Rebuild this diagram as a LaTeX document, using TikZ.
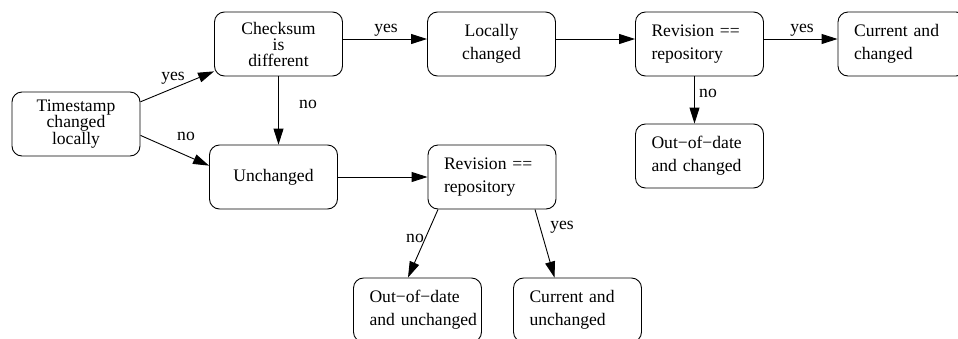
\documentclass[tikz,border=0pt]{standalone}
\usepackage{fontspec}
\setmainfont{Liberation Serif}
\usetikzlibrary{positioning,arrows.meta}

\begin{document}
\begin{tikzpicture}[x=1pt,y=-1pt,
  box/.style={draw,line width=0.9pt,rounded corners=10pt,minimum width=128pt,minimum height=64pt,inner sep=0pt,align=center},
  boxl/.style={box,text width=96pt,inner xsep=16pt,align=left},
  tight/.style={font=\fontsize{17.6}{16}\selectfont},
  loose/.style={font=\fontsize{17.6}{23}\selectfont},
  lbl/.style={inner sep=0pt,font=\fontsize{17.6}{20}\selectfont},
  arr/.style={line width=0.9pt,-{Triangle[length=16pt,width=10pt]}}]
  \useasboundingbox (0,0) rectangle (958,338);
  \clip (0,0) rectangle (958,338);
  \node[box,tight] (ts) at (76,124) {Timestamp\\changed\\locally};
  \node[box,tight] (chk) at (278.5,44) {Checksum\\is\\different};
  \node[box,loose] (loc) at (491.5,44) {Locally\\changed};
  \node[boxl,loose] (rev1) at (699.5,44) {Revision ==\\repository};
  \node[boxl,loose] (cur1) at (902,44) {Current and\\changed};
  \node[boxl,loose] (ood1) at (699.5,156) {Out−of−date\\and changed};
  \node[box,tight] (unch) at (273.5,177) {Unchanged};
  \node[boxl,loose] (rev2) at (492,177) {Revision ==\\repository};
  \node[boxl,loose] (ood2) at (417.5,310) {Out−of−date\\\mbox{and unchanged}};
  \node[boxl,loose] (cur2) at (577.5,310) {Current and\\unchanged};
  \draw[arr] (ts.19) -- (chk.203);
  \draw[arr] (ts.-10) -- (unch.170);
  \draw[arr] (chk.south) -- (chk.south |- unch.north);
  \draw[arr] ([yshift=5pt]chk.east) -- ([yshift=5pt]loc.west);
  \draw[arr] ([yshift=5pt]loc.east) -- ([yshift=5pt]rev1.west);
  \draw[arr] ([yshift=5pt]rev1.east) -- ([yshift=5pt]cur1.west);
  \draw[arr] ([xshift=-5pt]rev1.south) -- ([xshift=-5pt]ood1.north);
  \draw[arr] (unch.east) -- (rev2.west);
  \draw[arr] ([xshift=-54pt]rev2.south) -- ([xshift=-9.5pt]ood2.north);
  \draw[arr] ([xshift=43pt]rev2.south) -- ([xshift=-23pt]cur2.north);
  \node[lbl] (y1) at (173,78) {yes};
  \node[lbl] (n1) at (186,136) {no};
  \node[lbl] (n2) at (308,104) {no};
  \node[lbl] (y2) at (386,30) {yes};
  \node[lbl] (y3) at (802,30) {yes};
  \node[lbl] (n3) at (708,93) {no};
  \node[lbl] (n4) at (415,238) {no};
  \node[lbl] (y4) at (562,227) {yes};
\end{tikzpicture}
\end{document}
